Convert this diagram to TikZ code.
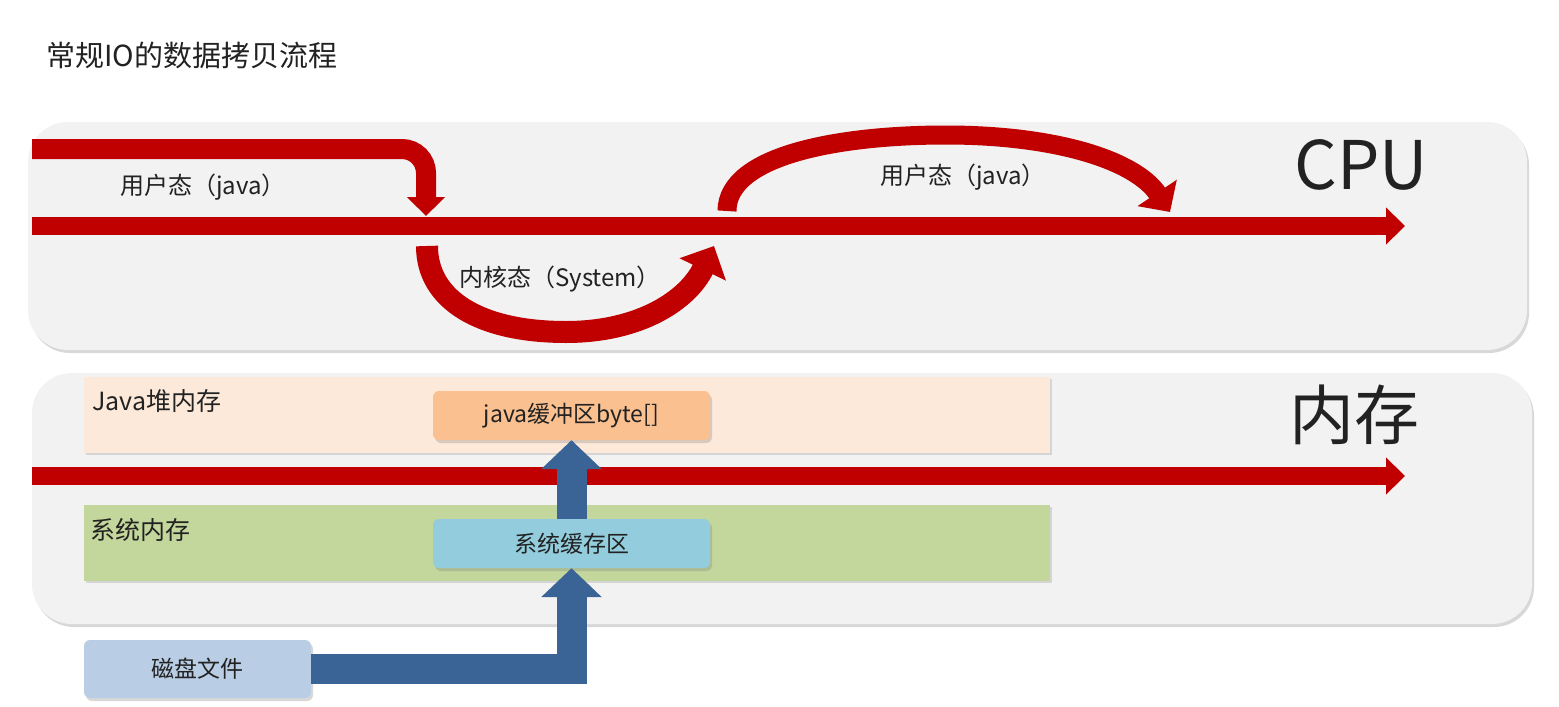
\documentclass[tikz,border=0pt]{standalone}
\usepackage{fontspec}
\setmainfont{Noto Sans CJK SC}
\usetikzlibrary{arrows.meta,shadows,calc}
\definecolor{panelfill}{HTML}{F2F2F2}
\definecolor{heapfill}{HTML}{FDE9D9}
\definecolor{buffill}{HTML}{FAC090}
\definecolor{sysmemfill}{HTML}{C3D69B}
\definecolor{sysfill}{HTML}{93CDDD}
\definecolor{diskfill}{HTML}{B9CDE5}
\definecolor{bluearr}{HTML}{3B6496}
\definecolor{redarr}{HTML}{C00000}
\definecolor{txt}{HTML}{222222}
\tikzset{
  panelbox/.style={fill=panelfill, rounded corners=40pt, draw=none,
    drop shadow={opacity=0.3, shadow xshift=2pt, shadow yshift=-3pt}},
  areabox/.style={draw=none, drop shadow={opacity=0.25, shadow xshift=2pt, shadow yshift=-2pt}},
  membox/.style={draw=none, rounded corners=6pt, inner sep=0pt, text=txt,
    font=\fontsize{23}{26}\selectfont,
    drop shadow={opacity=0.3, shadow xshift=2pt, shadow yshift=-3pt}},
  lbl/.style={text=txt, inner sep=0pt, anchor=west, font=\fontsize{24}{28}\selectfont},
  redline/.style={draw=redarr, line width=18pt},
  bluearrow/.style={draw=bluearr, line width=30pt, -{Triangle[width=59pt,length=29pt]}},
}
\begin{document}
\begin{tikzpicture}[x=1pt,y=-1pt]
\useasboundingbox (0,0) rectangle (1559,707);
\fill[white] (0,0) rectangle (1559,707);

% title
\node[lbl, font=\fontsize{29}{32}\selectfont] (title) at (46,55) {常规IO的数据拷贝流程};

% panels
\path[panelbox] (28,122) rectangle (1527,350);
\path[panelbox] (32,373) rectangle (1532,624);

\node[text=txt, inner sep=0pt, font=\fontsize{67}{70}\selectfont] (cpu) at (1361,165) {CPU};
\node[text=txt, inner sep=0pt, font=\fontsize{65}{68}\selectfont] (nc) at (1354,415) {内存};

% CPU arrows
\coordinate (m1s) at (32,226);
\coordinate (m1e) at (1405,226);
\draw[redline, -{Triangle[width=36pt,length=19pt]}] (m1s) -- (m1e);

\coordinate (a1s) at (32,149);
\coordinate (a1t) at (426,216);
\draw[draw=redarr, line width=20pt, rounded corners=24pt, -{Triangle[width=37pt,length=19pt]}] (a1s) -| (a1t);

\coordinate (k1s) at (427,246);
\coordinate (k1m) at (566,332);
\coordinate (k1t) at (714,246);
\draw[draw=redarr, line width=22pt, -{Triangle[width=50pt,length=26pt]}]
  (k1s) .. controls (427,300) and (480,332) .. (k1m)
        .. controls (640,332) and (688,300) .. (k1t);

\coordinate (u1s) at (727,211);
\coordinate (u1m) at (946,135);
\coordinate (u1t) at (1170,212);
\draw[draw=redarr, line width=19pt, -{Triangle[width=46pt,length=23pt]}]
  (u1s) .. controls (727,155) and (840,135) .. (u1m)
        .. controls (1055,135) and (1135,160) .. (u1t);

\node[lbl] (l1) at (120,187) {用户态（java）};
\node[lbl] (l2) at (459,279) {内核态（System）};
\node[lbl] (l3) at (880,177) {用户态（java）};

% memory areas
\path[areabox, fill=heapfill] (84,377) rectangle (1050,453);
\path[areabox, fill=sysmemfill] (84,505) rectangle (1050,581);
\node[lbl, font=\fontsize{25}{28}\selectfont] (heap) at (92,401) {Java堆内存};
\node[lbl, font=\fontsize{25}{28}\selectfont] (sysmem) at (90,530) {系统内存};

\coordinate (m2s) at (32,476);
\coordinate (m2e) at (1405,476);
\draw[redline, -{Triangle[width=36pt,length=19pt]}] (m2s) -- (m2e);

\node[membox, fill=buffill, minimum width=277pt, minimum height=49pt] (buf) at (571.5,415.5) {java缓冲区byte[]};
\node[membox, fill=sysfill, minimum width=277pt, minimum height=49pt] (sys) at (571.5,543.5) {系统缓存区};
\node[membox, fill=diskfill, minimum width=227pt, minimum height=58pt] (disk) at (197.5,669) {磁盘文件};

\draw[bluearrow] (sys.north) -- (buf.south);
\draw[bluearrow] (disk.east) -| (sys.south);
\end{tikzpicture}
\end{document}
